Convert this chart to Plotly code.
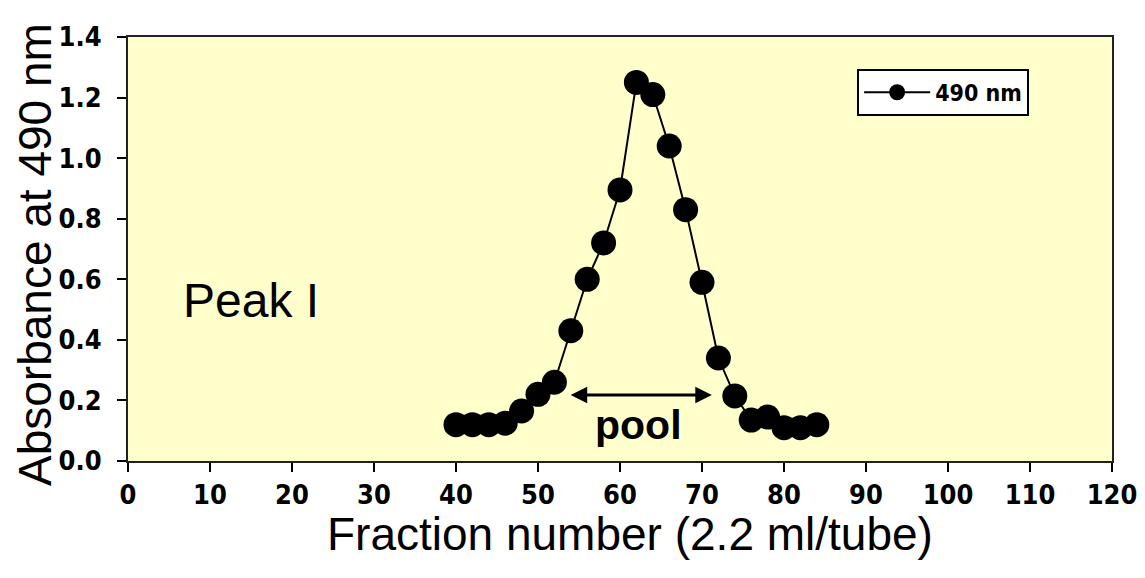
import plotly.graph_objects as go

fraction = [40, 42, 44, 46, 48, 50, 52, 54, 56, 58, 60, 62, 64, 66, 68, 70,
            72, 74, 76, 78, 80, 82, 84]
absorbance = [0.12, 0.12, 0.12, 0.125, 0.165, 0.22, 0.26, 0.43, 0.60, 0.72, 0.895, 1.25,
              1.21, 1.04, 0.83, 0.59, 0.34, 0.215, 0.135, 0.145, 0.11, 0.11, 0.12]
x_ticks = list(range(0, 121, 10))
y_ticks = [0.0, 0.2, 0.4, 0.6, 0.8, 1.0, 1.2, 1.4]
y_tick_text = ["0.0", "0.2", "0.4", "0.6", "0.8", "1.0", "1.2", "1.4"]
pool_start, pool_end, pool_level = 53.8, 71.2, 0.218

tick_font = dict(family="Liberation Sans Narrow, DejaVu Sans Condensed, Liberation Sans",
                 size=27, color="black", weight="bold")
title_font = dict(family="Liberation Sans, Arial", size=46, color="black")

fig = go.Figure()
fig.add_trace(go.Scatter(
    x=fraction, y=absorbance, mode="lines+markers", name="490 nm",
    line=dict(color="black", width=2),
    marker=dict(color="black", size=25, line=dict(width=0)),
))

fig.add_annotation(x=pool_end, y=pool_level, ax=pool_start, ay=pool_level,
                   xref="x", yref="y", axref="x", ayref="y", text="",
                   showarrow=True, arrowhead=2, arrowside="end+start",
                   arrowsize=1.1, arrowwidth=3, arrowcolor="black")
fig.add_annotation(x=62.3, y=0.118, xref="x", yref="y", text="<b>pool</b>",
                   showarrow=False, font=dict(family="Liberation Sans, Arial", size=41, color="black"))
fig.add_annotation(x=15.0, y=0.53, xref="x", yref="y", text="Peak I",
                   showarrow=False, font=dict(family="Liberation Sans, Arial", size=48, color="black"))

# axis titles
fig.add_annotation(x=0, y=0.5, xref="paper", yref="paper", text="Absorbance at 490 nm",
                   textangle=-90, showarrow=False, xanchor="center", yanchor="middle",
                   xshift=-93, yshift=-6, font=title_font)
fig.add_annotation(x=0.5, y=0, xref="paper", yref="paper", text="Fraction number (2.2 ml/tube)",
                   showarrow=False, xanchor="center", yanchor="middle",
                   xshift=10, yshift=-73, font=title_font)

fig.update_layout(
    width=1145, height=578,
    margin=dict(l=120, r=41, t=29, b=125, autoexpand=False),
    paper_bgcolor="white", plot_bgcolor="#FFFFCC",
    showlegend=True,
    legend=dict(x=0.741, y=0.925, xanchor="left", yanchor="top",
                bgcolor="white", bordercolor="black", borderwidth=2,
                font=dict(family="Liberation Sans Narrow, DejaVu Sans Condensed, Liberation Sans",
                          size=23, color="black", weight="bold"),
                itemwidth=66, tracegroupgap=0),
)
fig.update_xaxes(range=[0, 120], tickvals=x_ticks, ticks="outside", ticklen=9, tickwidth=2,
                 tickcolor="black", showline=True, linecolor="#222", linewidth=2, mirror=True,
                 showgrid=False, zeroline=False, tickfont=tick_font, automargin=False)
fig.update_yaxes(range=[0, 1.4], tickvals=y_ticks, ticktext=y_tick_text, ticks="outside",
                 ticklen=9, tickwidth=2, tickcolor="black", showline=True, linecolor="#222",
                 linewidth=2, mirror=True, showgrid=False, zeroline=False, tickfont=tick_font,
                 automargin=False, ticklabelstandoff=10)

fig.write_html("out.html")
